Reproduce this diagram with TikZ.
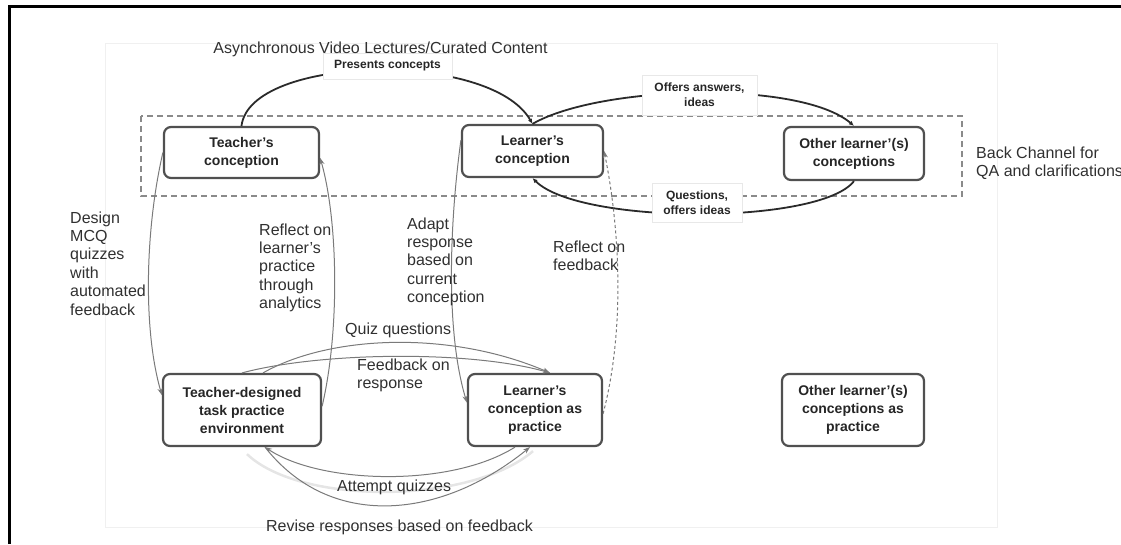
\documentclass[tikz,border=0pt]{standalone}
\usepackage{fontspec}
\setmainfont{Liberation Sans}
\usetikzlibrary{arrows.meta,calc,backgrounds}
\definecolor{boxline}{HTML}{505050}
\definecolor{boxtext}{HTML}{262626}
\definecolor{notetext}{HTML}{303030}
\definecolor{darkline}{HTML}{2A2A2A}
\definecolor{thinline}{HTML}{7A7A7A}
\definecolor{groupline}{HTML}{8A8A8A}
\begin{document}
\begin{tikzpicture}[x=1pt,y=-1pt,
  concept/.style={draw=boxline, line width=2.2pt, rounded corners=7pt, fill=white,
    inner sep=0pt, align=center, text=boxtext,
    font=\fontsize{14}{18}\selectfont\bfseries},
  lbl/.style={draw=black!9, line width=0.8pt, fill=white, inner sep=0pt,
    align=center, text=boxtext, font=\fontsize{12}{15}\selectfont\bfseries},
  note/.style={inner sep=0pt, align=left, text=notetext,
    font=\fontsize{16}{18.4}\selectfont},
  mainarrow/.style={draw=darkline, line width=1.8pt, -{Latex[length=5pt,width=4.5pt]}},
  thinarrow/.style={draw=thinline, line width=1pt, -{Stealth[length=7pt,width=5pt]}},
  group/.style={draw=groupline, line width=1.1pt, dash pattern=on 6pt off 4pt},
]
\useasboundingbox (0,0) rectangle (1121,544);

% frame and faint panel
\draw[black, line width=3pt] (9.5,544) -- (9.5,6.5) -- (1121,6.5);
\draw[black!6, line width=1pt] (105,43) rectangle (997,527);

% back channel group
\draw[group] (141,116) rectangle (962,196);

% conception boxes
\node[concept, minimum width=155pt, minimum height=51pt] (tc) at (241.5,152.5) {Teacher's\\conception};
\node[concept, minimum width=141pt, minimum height=52pt] (lc) at (532.5,151) {Learner's\\conception};
\node[concept, minimum width=140pt, minimum height=53pt] (oc) at (854,153.5) {Other learner'(s)\\conceptions};
\node[concept, minimum width=158pt, minimum height=72pt] (tdp) at (242,410) {Teacher-designed\\task practice\\environment};
\node[concept, minimum width=134pt, minimum height=72pt] (lpc) at (535,410) {Learner's\\conception as\\practice};
\node[concept, minimum width=142pt, minimum height=72pt] (olp) at (853,410) {Other learner'(s)\\conceptions as\\practice};

% faint trace under the practice loop
\draw[black!10, line width=2.5pt] ($(tdp.south)+(5,7)$) .. controls (300,505) and (470,505) .. ($(lpc.south)+(-2,4)$);

% back-channel exchanges
\draw[mainarrow] (tc.north) .. controls (250,55) and (490,50) .. (lc.north);
\draw[mainarrow] (lc.north) .. controls (600,85) and (800,80) .. (oc.north);
\draw[mainarrow] (oc.south) .. controls (820,225) and (580,225) .. (lc.south);

% conception <-> practice links
\draw[thinarrow] (tc.west) .. controls (145,230) and (143,330) .. ($(tdp.north west)!0.3!(tdp.south west)$);
\draw[thinarrow] ($(tdp.north east)!0.45!(tdp.south east)$) .. controls (340,330) and (338,220) .. ($(tc.north east)!0.6!(tc.south east)$);
\draw[thinarrow] ($(lc.north west)!0.3!(lc.south west)$) .. controls (450,220) and (445,330) .. ($(lpc.north west)!0.4!(lpc.south west)$);
\draw[thinarrow, dash pattern=on 3pt off 2.5pt] ($(lpc.north east)!0.55!(lpc.south east)$) .. controls (625,330) and (620,230) .. ($(lc.north east)!0.5!(lc.south east)$);

% practice loop
\draw[thinarrow] ($(tdp.north)+(21,0)$) .. controls (330,335) and (450,330) .. ($(lpc.north)+(15,0)$);
\draw[thinarrow] (tdp.north) .. controls (320,352) and (470,350) .. ($(lpc.north)+(15,0)$);
\draw[thinarrow] ($(lpc.south)+(-20,0)$) .. controls (450,488) and (320,484) .. ($(tdp.south)+(23,0)$);
\draw[thinarrow] ($(tdp.south)+(23,0)$) .. controls (330,530) and (440,520) .. ($(lpc.south)+(-5,0)$);

% edge labels
\node[lbl, minimum width=129pt, minimum height=26pt] (lpres) at (387.5,66) {Presents concepts};
\node[lbl, minimum width=115pt, minimum height=40pt] (loffer) at (699.5,95) {Offers answers,\\ideas};
\node[lbl, minimum width=90pt, minimum height=39pt] (lquest) at (697,202.5) {Questions,\\offers ideas};

% annotations (base anchor = baseline of the last line)
\node[note, anchor=base] (tasync) at (380.5,53) {Asynchronous Video Lectures/Curated Content};
\node[note, anchor=base west] (tback) at (976,176.4) {Back Channel for\\QA and clarifications};
\node[note, anchor=base west] (tdesign) at (70,315) {Design\\MCQ\\quizzes\\with\\automated\\feedback};
\node[note, anchor=base west] (treflA) at (259,308.6) {Reflect on\\learner's\\practice\\through\\analytics};
\node[note, anchor=base west] (tadapt) at (407,302.6) {Adapt\\response\\based on\\current\\conception};
\node[note, anchor=base west] (treflF) at (553,270.4) {Reflect on\\feedback};
\node[note, anchor=base west] (tquiz) at (345,334) {Quiz questions};
\node[note, anchor=base west] (tfeed) at (357,388.4) {Feedback on\\response};
\node[note, anchor=base west] (tattempt) at (337,491) {Attempt quizzes};
\node[note, anchor=base] (trevise) at (399.5,531) {Revise responses based on feedback};
\end{tikzpicture}
\end{document}
